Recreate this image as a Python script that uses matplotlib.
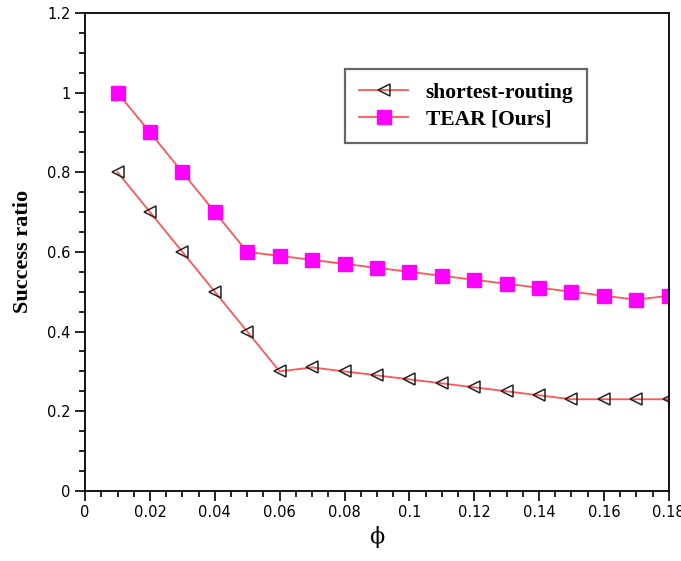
import matplotlib
matplotlib.use("Agg")
import matplotlib.pyplot as plt
from matplotlib.ticker import MultipleLocator
import numpy as np

# Data
phi = [0.01, 0.02, 0.03, 0.04, 0.05, 0.06, 0.07, 0.08, 0.09,
       0.10, 0.11, 0.12, 0.13, 0.14, 0.15, 0.16, 0.17, 0.18]
shortest = [0.80, 0.70, 0.60, 0.50, 0.40, 0.30, 0.31, 0.30, 0.29,
            0.28, 0.27, 0.26, 0.25, 0.24, 0.23, 0.23, 0.23, 0.23]
tear = [1.00, 0.90, 0.80, 0.70, 0.60, 0.59, 0.58, 0.57, 0.56,
        0.55, 0.54, 0.53, 0.52, 0.51, 0.50, 0.49, 0.48, 0.49]
xticks = [0, 0.02, 0.04, 0.06, 0.08, 0.1, 0.12, 0.14, 0.16, 0.18]
yticks = [0, 0.2, 0.4, 0.6, 0.8, 1, 1.2]

fig = plt.figure(figsize=(6.81, 5.61), dpi=100)
ax = fig.add_axes([0.125, 0.125, 0.857, 0.852])

line_col = "#ff5555"
ax.plot(phi, shortest, color=line_col, lw=1.3, marker="<", ms=8,
        mfc="none", mec="#222222", mew=1.1, label="shortest-routing")
ax.plot(phi, tear, color=line_col, lw=1.3, marker="s", ms=9.5,
        mfc="#ff00ff", mec="#ff00ff", label="TEAR [Ours]")

ax.set_xlim(0, 0.18)
ax.set_ylim(0, 1.2)
ax.set_xticks(xticks)
ax.set_xticklabels(["0", "0.02", "0.04", "0.06", "0.08", "0.1",
                    "0.12", "0.14", "0.16", "0.18"])
ax.set_yticks(yticks)
ax.set_yticklabels(["0", "0.2", "0.4", "0.6", "0.8", "1", "1.2"])
ax.xaxis.set_minor_locator(MultipleLocator(0.005))
ax.yaxis.set_minor_locator(MultipleLocator(0.05))
ax.tick_params(which="major", direction="out", length=7, width=1.2,
               labelsize=10.5, top=False, right=False)
ax.tick_params(which="minor", direction="out", length=4, width=1.2,
               top=False, right=False)
for s in ax.spines.values():
    s.set_linewidth(1.3)

ax.set_xlabel("\u03d5", fontsize=16, family="DejaVu Serif", labelpad=4)
ax.set_ylabel("Success ratio", fontsize=16, fontweight="bold",
              family="Liberation Serif", labelpad=10)

leg = ax.legend(loc="upper left", bbox_to_anchor=(0.445, 0.883),
                prop={"family": "Liberation Serif", "weight": "bold", "size": 15.5},
                fancybox=False, framealpha=1, edgecolor="#666666",
                handlelength=2.3, borderpad=0.65, labelspacing=0.3,
                borderaxespad=0)
leg.get_frame().set_linewidth(1.6)

fig.savefig("out.png", dpi=100)
